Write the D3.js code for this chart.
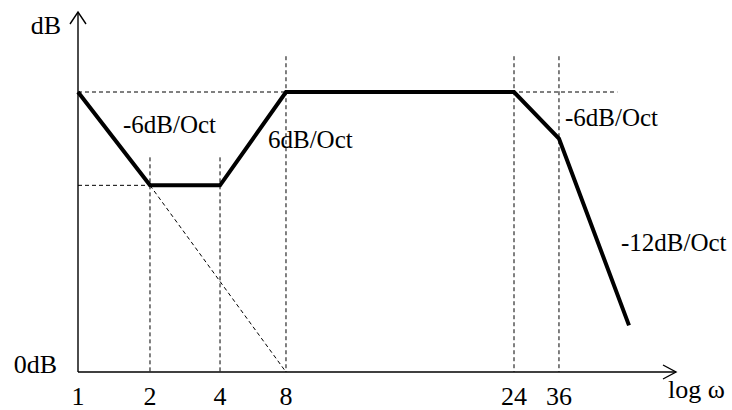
<!DOCTYPE html>
<html><head><meta charset="utf-8"><script src="https://cdn.jsdelivr.net/npm/d3@7"></script></head>
<body style="margin:0">
<svg id="s" width="732" height="410"></svg>
<script>
// ---- data ----
const freqTicks = [1, 2, 4, 8, 24, 36];
const freqTickLabels = ["1", "2", "4", "8", "24", "36"];
const responseFreq = [1, 2, 4, 8, 24, 36, 72];
const responseDb = [18, 12, 12, 18, 18, 15, 3];
const asymptoteFreq = [2, 8];
const asymptoteDb = [12, 0];
const slopeLabels = ["-6dB/Oct", "6dB/Oct", "-6dB/Oct", "-12dB/Oct"];
const slopeLabelFreq = [2, 8, 36, 72];
const slopeLabelDb = [18, 18, 18, 3];

// ---- layout ----
const x0 = 78, xEnd = 676, yBase = 372, yTop = 12;
// hand-drawn (schematic) frequency axis: piecewise positions of breakpoints
const xBreaks = [1, 2, 4, 8, 24, 36, 72, 96];
const xFrac = [0, 0.1204, 0.2375, 0.3478, 0.7291, 0.8043, 0.9214, 1.0];
const xEndData = 629;
const x = d3.scaleLinear()
  .domain(xBreaks)
  .range(xFrac.map(f => x0 + f * (xEndData - x0) / 0.9214));
const y = d3.scaleLinear().domain([0, 18]).range([yBase, 92]);

const svg = d3.select("#s");
const FONT = "Liberation Serif";

// dashed guides
const g = svg.append("g").attr("stroke", "#000").attr("stroke-width", 1).attr("stroke-dasharray", "4,3").attr("fill", "none");
g.append("line").attr("x1", x(1)).attr("x2", x(66)).attr("y1", y(18)).attr("y2", y(18));
g.append("line").attr("x1", x(1)).attr("x2", x(2)).attr("y1", y(12)).attr("y2", y(12));
const vTops = {2: 13.8, 4: 13.8, 8: 20.3, 24: 20.3, 36: 20.3};
freqTicks.slice(1).forEach(f => {
  g.append("line").attr("x1", x(f)).attr("x2", x(f)).attr("y1", y(vTops[f])).attr("y2", y(0));
});
g.append("line").attr("x1", x(asymptoteFreq[0])).attr("y1", y(asymptoteDb[0]))
  .attr("x2", x(asymptoteFreq[1])).attr("y2", y(asymptoteDb[1]));

// axes with open arrows
const ax = svg.append("g").attr("stroke", "#000").attr("stroke-width", 1.4).attr("fill", "none");
ax.append("line").attr("x1", x0).attr("y1", yBase).attr("x2", xEnd).attr("y2", yBase);
ax.append("line").attr("x1", x0).attr("y1", yBase).attr("x2", x0).attr("y2", yTop);
ax.append("path").attr("d", `M${x0 - 8},${yTop + 12}L${x0},${yTop}L${x0 + 8},${yTop + 12}`);
ax.append("path").attr("d", `M${xEnd - 13},${yBase - 7}L${xEnd},${yBase}L${xEnd - 13},${yBase + 7}`);

// response curve
const line = d3.line().x(d => x(d[0])).y(d => y(d[1]));
svg.append("path")
  .datum(responseFreq.map((f, i) => [f, responseDb[i]]))
  .attr("d", line)
  .attr("fill", "none").attr("stroke", "#000").attr("stroke-width", 4)
  .attr("stroke-linejoin", "miter").attr("stroke-linecap", "butt");

// tick labels
freqTicks.forEach((d, i) => {
  svg.append("text").attr("x", x(d)).attr("y", 405).attr("text-anchor", "middle")
    .attr("font-size", 26).style("font-family", FONT).text(freqTickLabels[i]);
});

// axis labels
svg.append("text").attr("x", 61).attr("y", 34).attr("text-anchor", "end").attr("font-size", 26).style("font-family", FONT).text("dB");
svg.append("text").attr("x", 57).attr("y", 373).attr("text-anchor", "end").attr("font-size", 26).style("font-family", FONT).text("0dB");
svg.append("text").attr("x", 668).attr("y", 398).attr("font-size", 26).style("font-family", FONT).text("log \u03c9");

// slope labels
const offs = [[-27, 41], [-18, 56], [6, 34], [-8, -74]];
slopeLabels.forEach((d, i) => {
  svg.append("text")
    .attr("x", x(slopeLabelFreq[i]) + offs[i][0])
    .attr("y", y(slopeLabelDb[i]) + offs[i][1])
    .attr("font-size", 25).style("font-family", FONT)
    .text(d);
});
</script></body></html>
